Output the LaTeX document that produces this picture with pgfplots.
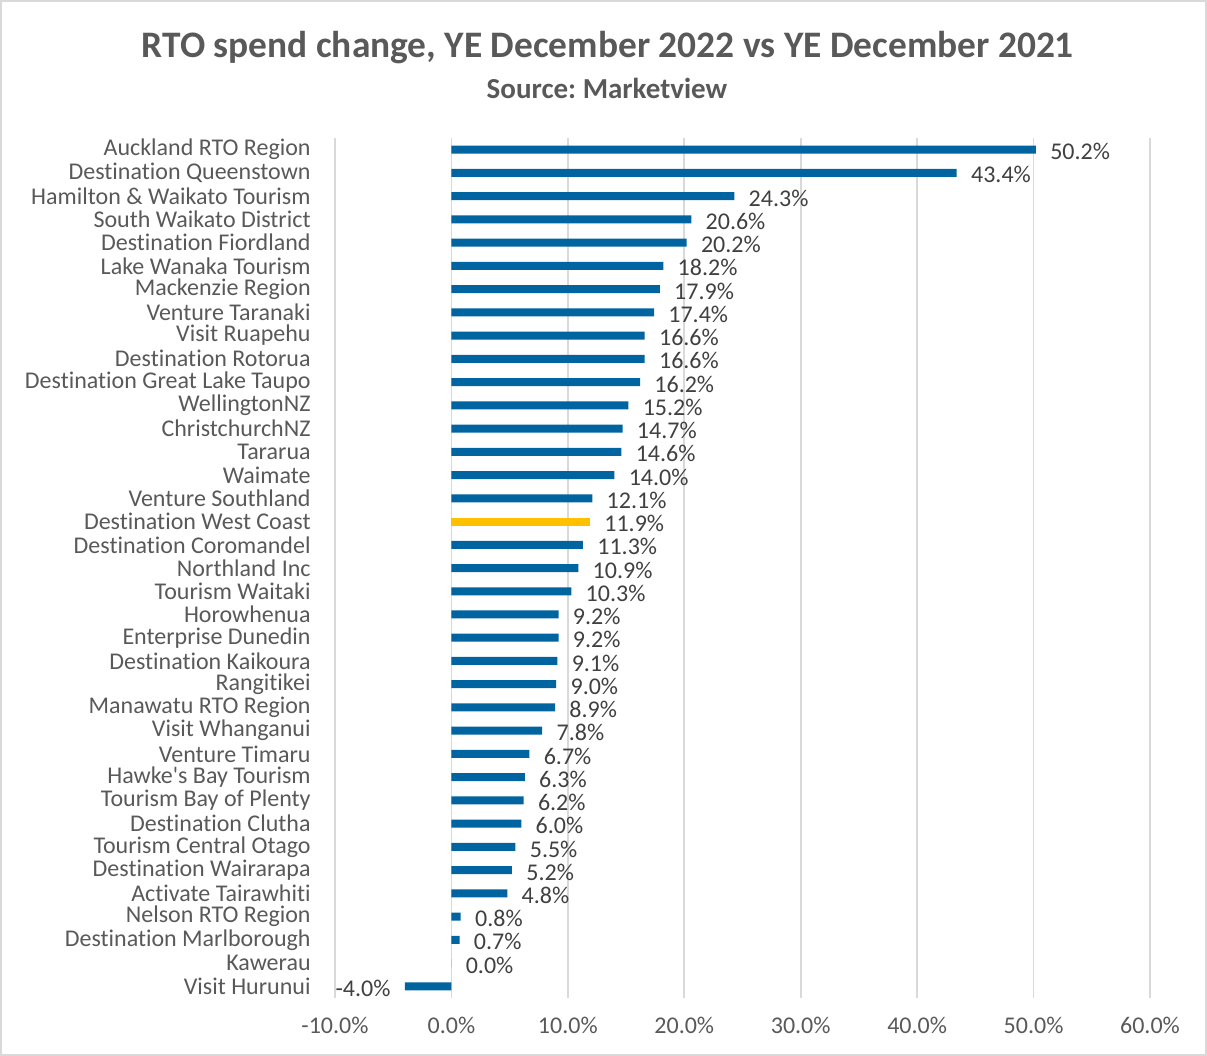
\documentclass[border=0pt]{standalone}
\usepackage{pgfplots}
\pgfplotsset{compat=1.18}
\usepackage{fontspec}
\setmainfont[Ligatures=NoCommon]{Carlito}
\frenchspacing
\definecolor{barblue}{RGB}{0,100,160}
\definecolor{baryellow}{RGB}{255,192,0}
\definecolor{txtgray}{RGB}{89,89,89}
\definecolor{lblgray}{RGB}{64,64,64}
\definecolor{gridgray}{RGB}{217,217,217}
\begin{document}
\begin{tikzpicture}
\path[use as bounding box] (0pt,0pt) rectangle (603.5pt,528pt);
\draw[draw=black!15, line width=1pt] (0.5pt,0.5pt) rectangle (603pt,527.5pt);
\node[text=txtgray, font=\fontsize{18.7}{22}\selectfont\bfseries] at (304pt,504pt) {RTO spend change, YE December 2022 vs YE December 2021};
\node[text=txtgray, font=\fontsize{14.5}{17}\selectfont\bfseries] at (303.5pt,484pt) {Source: Marketview};
\begin{axis}[
  at={(167.5pt,29pt)}, anchor=south west,
  scale only axis, width=407.5pt, height=430pt,
  xbar, bar width=4pt,
  xmin=-10, xmax=60, ymin=-0.5, ymax=36.5,
  y dir=reverse,
  axis line style={draw=none},
  major tick length=0pt,
  xmajorgrids, major grid style={gridgray, line width=0.8pt},
  xtick={-10,0,10,20,30,40,50,60},
  /pgf/number format/assume math mode=true,
  xticklabel={\pgfmathprintnumber[fixed,fixed zerofill,precision=1]{\tick}\%},
  xticklabel style={font=\fontsize{12}{14}\selectfont, text=txtgray, yshift=-6pt},
  ytick={0,...,36},
  yticklabels={Auckland RTO Region,Destination Queenstown,Hamilton \& Waikato Tourism,South Waikato District,Destination Fiordland,Lake Wanaka Tourism,Mackenzie Region,Venture Taranaki,Visit Ruapehu,Destination Rotorua,Destination Great Lake Taupo,WellingtonNZ,ChristchurchNZ,Tararua,Waimate,Venture Southland,Destination West Coast,Destination Coromandel,Northland Inc,Tourism Waitaki,Horowhenua,Enterprise Dunedin,Destination Kaikoura,Rangitikei,Manawatu RTO Region,Visit Whanganui,Venture Timaru,Hawke\textquotesingle s Bay Tourism,Tourism Bay of Plenty,Destination Clutha,Tourism Central Otago,Destination Wairarapa,Activate Tairawhiti,Nelson RTO Region,Destination Marlborough,Kawerau,Visit Hurunui},
  yticklabel style={font=\fontsize{12}{14}\selectfont, text=txtgray, inner sep=0pt, xshift=-12pt},
  nodes near coords={\pgfmathprintnumber[fixed,fixed zerofill,precision=1]{\pgfplotspointmeta}\%},
  nodes near coords align=horizontal,
  every node near coord/.append style={font=\fontsize{12}{14}\selectfont, text=lblgray, inner ysep=0pt, inner xsep=7pt, yshift=-1pt},
  point meta=explicit,
]
\addplot[fill=barblue, draw=none, bar shift=0pt] coordinates {
(50.2,0) [50.2]
(43.4,1) [43.4]
(24.3,2) [24.3]
(20.6,3) [20.6]
(20.2,4) [20.2]
(18.2,5) [18.2]
(17.9,6) [17.9]
(17.4,7) [17.4]
(16.6,8) [16.6]
(16.6,9) [16.6]
(16.2,10) [16.2]
(15.2,11) [15.2]
(14.7,12) [14.7]
(14.6,13) [14.6]
(14.0,14) [14.0]
(12.1,15) [12.1]
(11.3,17) [11.3]
(10.9,18) [10.9]
(10.3,19) [10.3]
(9.2,20) [9.2]
(9.2,21) [9.2]
(9.1,22) [9.1]
(9.0,23) [9.0]
(8.9,24) [8.9]
(7.8,25) [7.8]
(6.7,26) [6.7]
(6.3,27) [6.3]
(6.2,28) [6.2]
(6.0,29) [6.0]
(5.5,30) [5.5]
(5.2,31) [5.2]
(4.8,32) [4.8]
(0.8,33) [0.8]
(0.7,34) [0.7]
(0.0,35) [0.0]
(-4.0,36) [-4.0]
};
\addplot[fill=baryellow, draw=none, bar shift=0pt] coordinates {
(11.9,16) [11.9]
};
\end{axis}
\end{tikzpicture}
\end{document}
